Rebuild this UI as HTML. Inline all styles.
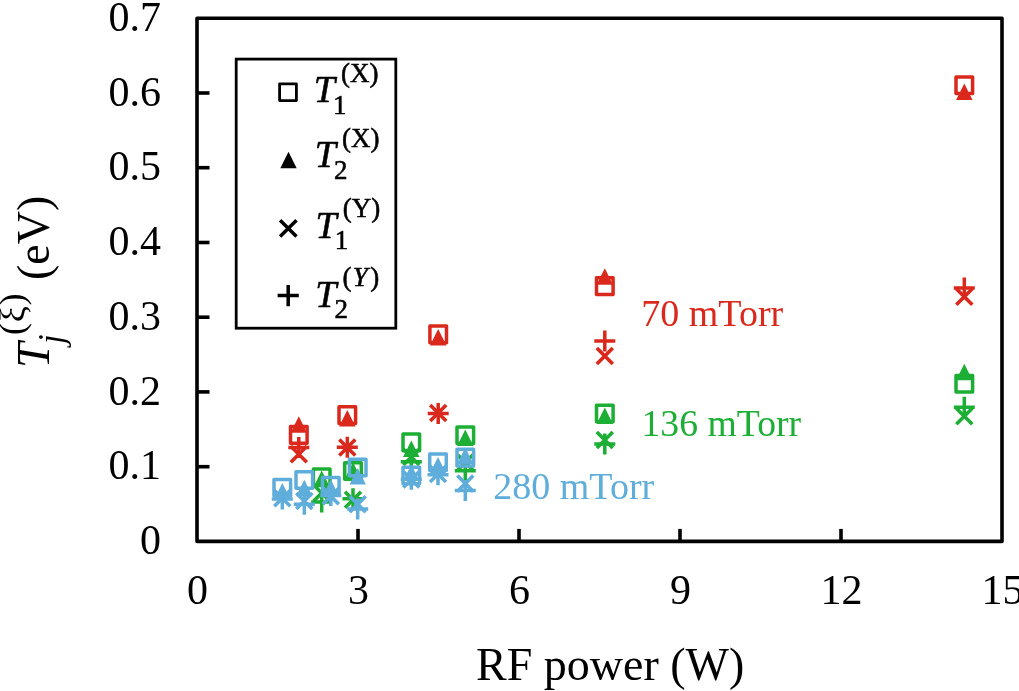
<!DOCTYPE html>
<html lang="en">
<head>
<meta charset="utf-8">
<title>Temperatures versus RF power</title>
<style>
html,body{margin:0;padding:0;background:#fff;}
body{width:1019px;height:691px;overflow:hidden;}
svg{display:block;}
svg text{font-family:"Liberation Serif","DejaVu Serif",serif;fill:#000;}
</style>
</head>
<body>
<svg width="1019" height="691" viewBox="0 0 1019 691">
<rect x="0" y="0" width="1019" height="691" fill="#fff"/>
<g stroke="#000" stroke-width="3.6" fill="none">
<rect x="197.0" y="18.3" width="805.0" height="523.1" stroke-linejoin="round"/>
<path d="M197.0 466.7H209.5"/>
<path d="M197.0 391.9H209.5"/>
<path d="M197.0 317.2H209.5"/>
<path d="M197.0 242.5H209.5"/>
<path d="M197.0 167.7H209.5"/>
<path d="M197.0 93.0H209.5"/>
<path d="M358.0 541.4V528.9"/>
<path d="M519.0 541.4V528.9"/>
<path d="M680.0 541.4V528.9"/>
<path d="M841.0 541.4V528.9"/>
</g>
<g font-size="42">
<text x="161" y="554.1" text-anchor="end">0</text>
<text x="161" y="479.4" text-anchor="end">0.1</text>
<text x="161" y="404.6" text-anchor="end">0.2</text>
<text x="161" y="329.9" text-anchor="end">0.3</text>
<text x="161" y="255.2" text-anchor="end">0.4</text>
<text x="161" y="180.4" text-anchor="end">0.5</text>
<text x="161" y="105.7" text-anchor="end">0.6</text>
<text x="161" y="31.0" text-anchor="end">0.7</text>
<text x="197.5" y="603.6" text-anchor="middle">0</text>
<text x="358.5" y="603.6" text-anchor="middle">3</text>
<text x="519.5" y="603.6" text-anchor="middle">6</text>
<text x="680.5" y="603.6" text-anchor="middle">9</text>
<text x="841.5" y="603.6" text-anchor="middle">12</text>
<text x="1002.6" y="603.6" text-anchor="middle">15</text>
</g>
<text x="610.2" y="680.2" font-size="46" text-anchor="middle">RF power (W)</text>
<g transform="translate(49.3,368) rotate(-90)">
<text x="0" y="0" font-size="46" font-style="italic">T</text>
<text x="24" y="14" font-size="35" font-style="italic">j</text>
<text x="33" y="-25.5" font-size="36" letter-spacing="0.7">(ξ)</text>
<text x="88" y="0" font-size="46">(eV)</text>
</g>
<rect x="236.2" y="59.1" width="159.6" height="269.1" fill="#fff" stroke="#000" stroke-width="2.8"/>
<rect x="279.6" y="83.8" width="16.8" height="16.8" fill="none" stroke="#000" stroke-width="2.8" stroke-linejoin="round"/>
<path d="M288.5 151.8L296.7 168.3H280.3Z" fill="#000"/>
<path d="M280.1 220.2L296.5 236.6M280.1 236.6L296.5 220.2" stroke="#000" stroke-width="3.5" fill="none"/>
<path d="M277.6 295.6H298.8M288.2 285V306.2" stroke="#000" stroke-width="3.5" fill="none"/>
<g stroke="#000" stroke-width="0.55" stroke-linejoin="round"><text x="313.8" y="102.1" font-size="38" font-style="italic">T</text><text x="333.1" y="113.7" font-size="27">1</text><text x="341.1" y="82.0" font-size="27">(X)</text></g>
<g stroke="#000" stroke-width="0.55" stroke-linejoin="round"><text x="314.8" y="167.1" font-size="38" font-style="italic">T</text><text x="334.1" y="178.7" font-size="27">2</text><text x="342.1" y="147.0" font-size="27">(X)</text></g>
<g stroke="#000" stroke-width="0.55" stroke-linejoin="round"><text x="315.5" y="237.5" font-size="38" font-style="italic">T</text><text x="334.8" y="249.1" font-size="27">1</text><text x="342.8" y="217.4" font-size="27">(Y)</text></g>
<g stroke="#000" stroke-width="0.55" stroke-linejoin="round"><text x="315.2" y="306.5" font-size="38" font-style="italic">T</text><text x="334.5" y="318.1" font-size="27">2</text><text x="342.5" y="286.4" font-size="27">(<tspan font-style="italic" dx="1.2">Y</tspan><tspan dx="2.6">)</tspan></text></g>
<rect x="290.5" y="426.6" width="16.6" height="16.6" fill="none" stroke="#DA291C" stroke-width="3.5" stroke-linejoin="round"/>
<rect x="339.0" y="406.8" width="16.6" height="16.6" fill="none" stroke="#DA291C" stroke-width="3.5" stroke-linejoin="round"/>
<rect x="429.9" y="326.1" width="16.6" height="16.6" fill="none" stroke="#DA291C" stroke-width="3.5" stroke-linejoin="round"/>
<rect x="596.5" y="277.8" width="16.6" height="16.6" fill="none" stroke="#DA291C" stroke-width="3.5" stroke-linejoin="round"/>
<rect x="956.0" y="77.0" width="16.6" height="16.6" fill="none" stroke="#DA291C" stroke-width="3.5" stroke-linejoin="round"/>
<path d="M298.8 416.2L307.0 432.8H290.6Z" fill="#DA291C"/>
<path d="M347.3 409.9L355.5 426.4H339.1Z" fill="#DA291C"/>
<path d="M438.2 329.1L446.4 345.6H430.0Z" fill="#DA291C"/>
<path d="M604.8 268.2L613.0 284.8H596.6Z" fill="#DA291C"/>
<path d="M964.3 83.5L972.5 100.0H956.1Z" fill="#DA291C"/>
<path d="M290.8 446.2L306.8 462.2M290.8 462.2L306.8 446.2" stroke="#DA291C" stroke-width="3.6" fill="none"/>
<path d="M339.3 439.5L355.3 455.5M339.3 455.5L355.3 439.5" stroke="#DA291C" stroke-width="3.6" fill="none"/>
<path d="M430.2 405.0L446.2 421.0M430.2 421.0L446.2 405.0" stroke="#DA291C" stroke-width="3.6" fill="none"/>
<path d="M596.8 348.0L612.8 364.0M596.8 364.0L612.8 348.0" stroke="#DA291C" stroke-width="3.6" fill="none"/>
<path d="M956.3 288.8L972.3 304.8M956.3 304.8L972.3 288.8" stroke="#DA291C" stroke-width="3.6" fill="none"/>
<path d="M288.3 447.5H309.3M298.8 437.0V458.0" stroke="#DA291C" stroke-width="3.5" fill="none"/>
<path d="M336.8 447.3H357.8M347.3 436.8V457.8" stroke="#DA291C" stroke-width="3.5" fill="none"/>
<path d="M427.7 413.5H448.7M438.2 403.0V424.0" stroke="#DA291C" stroke-width="3.5" fill="none"/>
<path d="M594.3 341.0H615.3M604.8 330.5V351.5" stroke="#DA291C" stroke-width="3.5" fill="none"/>
<path d="M953.8 288.1H974.8M964.3 277.6V298.6" stroke="#DA291C" stroke-width="3.5" fill="none"/>
<rect x="313.4" y="468.9" width="16.6" height="16.6" fill="none" stroke="#1DAE35" stroke-width="3.5" stroke-linejoin="round"/>
<rect x="344.7" y="462.7" width="16.6" height="16.6" fill="none" stroke="#1DAE35" stroke-width="3.5" stroke-linejoin="round"/>
<rect x="403.0" y="434.1" width="16.6" height="16.6" fill="none" stroke="#1DAE35" stroke-width="3.5" stroke-linejoin="round"/>
<rect x="457.0" y="427.0" width="16.6" height="16.6" fill="none" stroke="#1DAE35" stroke-width="3.5" stroke-linejoin="round"/>
<rect x="596.5" y="405.2" width="16.6" height="16.6" fill="none" stroke="#1DAE35" stroke-width="3.5" stroke-linejoin="round"/>
<rect x="956.0" y="375.5" width="16.6" height="16.6" fill="none" stroke="#1DAE35" stroke-width="3.5" stroke-linejoin="round"/>
<path d="M321.7 470.6L329.9 487.1H313.5Z" fill="#1DAE35"/>
<path d="M353.0 462.2L361.2 478.8H344.8Z" fill="#1DAE35"/>
<path d="M411.3 440.4L419.5 456.9H403.1Z" fill="#1DAE35"/>
<path d="M465.3 429.4L473.5 445.9H457.1Z" fill="#1DAE35"/>
<path d="M604.8 407.6L613.0 424.1H596.6Z" fill="#1DAE35"/>
<path d="M964.3 363.8L972.5 380.2H956.1Z" fill="#1DAE35"/>
<path d="M313.7 485.0L329.7 501.0M313.7 501.0L329.7 485.0" stroke="#1DAE35" stroke-width="3.6" fill="none"/>
<path d="M345.0 491.8L361.0 507.8M345.0 507.8L361.0 491.8" stroke="#1DAE35" stroke-width="3.6" fill="none"/>
<path d="M403.3 449.0L419.3 465.0M403.3 465.0L419.3 449.0" stroke="#1DAE35" stroke-width="3.6" fill="none"/>
<path d="M457.3 454.5L473.3 470.5M457.3 470.5L473.3 454.5" stroke="#1DAE35" stroke-width="3.6" fill="none"/>
<path d="M596.8 432.0L612.8 448.0M596.8 448.0L612.8 432.0" stroke="#1DAE35" stroke-width="3.6" fill="none"/>
<path d="M956.3 408.3L972.3 424.3M956.3 424.3L972.3 408.3" stroke="#1DAE35" stroke-width="3.6" fill="none"/>
<path d="M311.2 502.0H332.2M321.7 491.5V512.5" stroke="#1DAE35" stroke-width="3.5" fill="none"/>
<path d="M342.5 498.8H363.5M353.0 488.3V509.3" stroke="#1DAE35" stroke-width="3.5" fill="none"/>
<path d="M400.8 461.8H421.8M411.3 451.3V472.3" stroke="#1DAE35" stroke-width="3.5" fill="none"/>
<path d="M454.8 470.7H475.8M465.3 460.2V481.2" stroke="#1DAE35" stroke-width="3.5" fill="none"/>
<path d="M594.3 443.9H615.3M604.8 433.4V454.4" stroke="#1DAE35" stroke-width="3.5" fill="none"/>
<path d="M953.8 407.2H974.8M964.3 396.7V417.7" stroke="#1DAE35" stroke-width="3.5" fill="none"/>
<rect x="274.0" y="479.5" width="16.6" height="16.6" fill="none" stroke="#5FADDB" stroke-width="3.5" stroke-linejoin="round"/>
<rect x="296.0" y="471.7" width="16.6" height="16.6" fill="none" stroke="#5FADDB" stroke-width="3.5" stroke-linejoin="round"/>
<rect x="322.5" y="477.4" width="16.6" height="16.6" fill="none" stroke="#5FADDB" stroke-width="3.5" stroke-linejoin="round"/>
<rect x="349.4" y="459.2" width="16.6" height="16.6" fill="none" stroke="#5FADDB" stroke-width="3.5" stroke-linejoin="round"/>
<rect x="403.0" y="467.2" width="16.6" height="16.6" fill="none" stroke="#5FADDB" stroke-width="3.5" stroke-linejoin="round"/>
<rect x="429.7" y="453.9" width="16.6" height="16.6" fill="none" stroke="#5FADDB" stroke-width="3.5" stroke-linejoin="round"/>
<rect x="457.0" y="449.3" width="16.6" height="16.6" fill="none" stroke="#5FADDB" stroke-width="3.5" stroke-linejoin="round"/>
<path d="M282.3 483.1L290.5 499.6H274.1Z" fill="#5FADDB"/>
<path d="M304.3 479.8L312.5 496.2H296.1Z" fill="#5FADDB"/>
<path d="M330.8 479.6L339.0 496.1H322.6Z" fill="#5FADDB"/>
<path d="M357.7 467.9L365.9 484.4H349.5Z" fill="#5FADDB"/>
<path d="M411.3 464.4L419.5 480.9H403.1Z" fill="#5FADDB"/>
<path d="M438.0 456.9L446.2 473.4H429.8Z" fill="#5FADDB"/>
<path d="M465.3 447.6L473.5 464.1H457.1Z" fill="#5FADDB"/>
<path d="M274.3 490.2L290.3 506.2M274.3 506.2L290.3 490.2" stroke="#5FADDB" stroke-width="3.6" fill="none"/>
<path d="M296.3 493.0L312.3 509.0M296.3 509.0L312.3 493.0" stroke="#5FADDB" stroke-width="3.6" fill="none"/>
<path d="M322.8 488.3L338.8 504.3M322.8 504.3L338.8 488.3" stroke="#5FADDB" stroke-width="3.6" fill="none"/>
<path d="M349.7 496.3L365.7 512.3M349.7 512.3L365.7 496.3" stroke="#5FADDB" stroke-width="3.6" fill="none"/>
<path d="M403.3 471.4L419.3 487.4M403.3 487.4L419.3 471.4" stroke="#5FADDB" stroke-width="3.6" fill="none"/>
<path d="M430.0 466.0L446.0 482.0M430.0 482.0L446.0 466.0" stroke="#5FADDB" stroke-width="3.6" fill="none"/>
<path d="M457.3 475.5L473.3 491.5M457.3 491.5L473.3 475.5" stroke="#5FADDB" stroke-width="3.6" fill="none"/>
<path d="M271.8 499.0H292.8M282.3 488.5V509.5" stroke="#5FADDB" stroke-width="3.5" fill="none"/>
<path d="M293.8 504.2H314.8M304.3 493.7V514.7" stroke="#5FADDB" stroke-width="3.5" fill="none"/>
<path d="M320.3 495.4H341.3M330.8 484.9V505.9" stroke="#5FADDB" stroke-width="3.5" fill="none"/>
<path d="M347.2 509.0H368.2M357.7 498.5V519.5" stroke="#5FADDB" stroke-width="3.5" fill="none"/>
<path d="M400.8 479.3H421.8M411.3 468.8V489.8" stroke="#5FADDB" stroke-width="3.5" fill="none"/>
<path d="M427.5 474.7H448.5M438.0 464.2V485.2" stroke="#5FADDB" stroke-width="3.5" fill="none"/>
<path d="M454.8 490.6H475.8M465.3 480.1V501.1" stroke="#5FADDB" stroke-width="3.5" fill="none"/>
<text x="641.3" y="326" font-size="38" style="fill:#DA291C">70 mTorr</text>
<text x="641.5" y="436" font-size="37.7" style="fill:#1DAE35">136 mTorr</text>
<text x="493.3" y="499.1" font-size="38" style="fill:#5FADDB">280 mTorr</text>
</svg>
</body>
</html>
